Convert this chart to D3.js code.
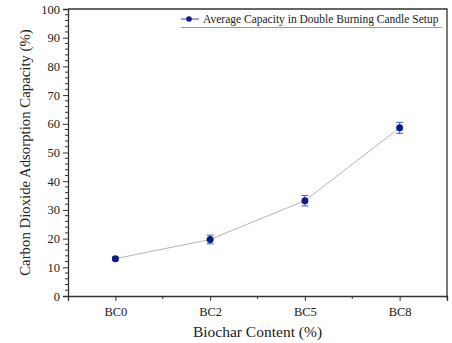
<!DOCTYPE html>
<html>
<head>
<meta charset="utf-8">
<script src="https://cdn.jsdelivr.net/npm/d3@7"></script>
<style>
  body { margin: 0; background: #fff; }
  text { font-family: "Liberation Serif", "Times New Roman", serif; fill: #222; }
</style>
</head>
<body>
<svg width="452" height="343"></svg>
<script>
// chart data
var categories = ["BC0", "BC2", "BC5", "BC8"]
var capacity = [13.0, 19.7, 33.2, 58.6]
var errors = [0.6, 1.5, 1.8, 1.9]
var yTicks = [0, 10, 20, 30, 40, 50, 60, 70, 80, 90, 100]
var seriesName = "Average Capacity in Double Burning Candle Setup"

var svg = d3.select("svg"),
    width = +svg.attr("width"),
    height = +svg.attr("height");

var margin = {left: 68, right: 5, top: 9, bottom: 47}
var x0 = margin.left, x1 = width - margin.right
var y0 = height - margin.bottom, y1 = margin.top

var x = d3.scalePoint().domain(categories).range([x0, x1]).padding(0.5)
var y = d3.scaleLinear().domain([0, 100]).range([y0, y1])

var axisColor = "#333"

// frame top + right
svg.append("path")
    .attr("d", "M" + x0 + "," + y1 + "H" + x1 + "V" + y0)
    .attr("fill", "none")
    .attr("stroke", axisColor)
    .attr("stroke-width", 1.3)

// y axis
var yAxis = svg.append("g")
    .attr("transform", "translate(" + x0 + ",0)")
    .call(d3.axisLeft(y).tickValues(yTicks).tickSize(5).tickPadding(3))
yAxis.selectAll("text").style("font-size", "12.5px")
var yMinor = d3.range(0, 101, 2).filter(function (v) { return v % 10 != 0 })
yAxis.selectAll(".minor").data(yMinor).enter().append("line")
    .attr("class", "minor")
    .attr("x1", 0).attr("x2", -3)
    .attr("y1", function (d) { return y(d) }).attr("y2", function (d) { return y(d) })
    .attr("stroke", axisColor)

// x axis
var xAxis = svg.append("g")
    .attr("transform", "translate(0," + y0 + ")")
    .call(d3.axisBottom(x).tickSize(5).tickPadding(6))
xAxis.selectAll("text").style("font-size", "12.5px")
var step = x.step()
var xMinor = categories.map(function (c) { return x(c) + step / 2 })
xAxis.selectAll(".minor").data(xMinor).enter().append("line")
    .attr("class", "minor")
    .attr("x1", function (d) { return d }).attr("x2", function (d) { return d })
    .attr("y1", 0).attr("y2", 3)
    .attr("stroke", axisColor)

svg.selectAll(".domain").attr("stroke", axisColor).attr("stroke-width", 1.3)
svg.selectAll(".tick line").attr("stroke", axisColor)

// axis titles
svg.append("text")
    .attr("transform", "translate(30," + ((y0 + y1) / 2) + ") rotate(-90)")
    .attr("text-anchor", "middle")
    .style("font-size", "14.8px")
    .text("Carbon Dioxide Adsorption Capacity (%)")

svg.append("text")
    .attr("x", (x0 + x1) / 2)
    .attr("y", 337)
    .attr("text-anchor", "middle")
    .style("font-size", "15.5px")
    .text("Biochar Content (%)")

// connecting line
var line = d3.line()
    .x(function (d, i) { return x(categories[i]) })
    .y(function (d) { return y(d) })

svg.append("path")
    .datum(capacity)
    .attr("d", line)
    .attr("fill", "none")
    .attr("stroke", "#b5b5b5")
    .attr("stroke-width", 1)

// error bars
var eb = svg.append("g").selectAll("g")
    .data(capacity)
    .enter().append("g")
    .attr("stroke", "#4a5bc4")
    .attr("stroke-width", 1)
eb.append("line")
    .attr("x1", function (d, i) { return x(categories[i]) })
    .attr("x2", function (d, i) { return x(categories[i]) })
    .attr("y1", function (d, i) { return y(d - errors[i]) })
    .attr("y2", function (d, i) { return y(d + errors[i]) })
eb.append("line")
    .attr("x1", function (d, i) { return x(categories[i]) - 3.5 })
    .attr("x2", function (d, i) { return x(categories[i]) + 3.5 })
    .attr("y1", function (d, i) { return y(d + errors[i]) })
    .attr("y2", function (d, i) { return y(d + errors[i]) })
eb.append("line")
    .attr("x1", function (d, i) { return x(categories[i]) - 3.5 })
    .attr("x2", function (d, i) { return x(categories[i]) + 3.5 })
    .attr("y1", function (d, i) { return y(d - errors[i]) })
    .attr("y2", function (d, i) { return y(d - errors[i]) })

// points
svg.append("g").selectAll("circle")
    .data(capacity)
    .enter().append("circle")
    .attr("cx", function (d, i) { return x(categories[i]) })
    .attr("cy", function (d) { return y(d) })
    .attr("r", 3.5)
    .attr("fill", "#0b1a8c")

// legend
var legend = svg.append("g").attr("transform", "translate(181," + (y1 + 1) + ")")
legend.append("rect")
    .attr("x", 0).attr("y", 0)
    .attr("width", x1 - 181 - 1).attr("height", 17)
    .attr("fill", "#fff")
    .attr("stroke", "none")
legend.append("line")
    .attr("x1", 0).attr("x2", x1 - 181 - 5)
    .attr("y1", 17.5).attr("y2", 17.5)
    .attr("stroke", "#999")
legend.append("line")
    .attr("x1", 0).attr("x2", 18)
    .attr("y1", 9).attr("y2", 9)
    .attr("stroke", "#3344aa")
legend.append("circle")
    .attr("cx", 8).attr("cy", 9).attr("r", 2.8)
    .attr("fill", "#0b1a8c")
legend.append("text")
    .attr("x", 22).attr("y", 13)
    .style("font-size", "11.5px")
    .text(seriesName)
</script>
</body>
</html>
